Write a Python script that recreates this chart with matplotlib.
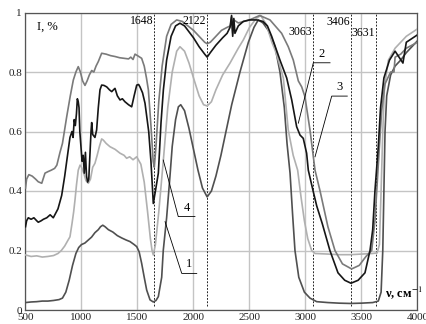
import matplotlib
matplotlib.use("Agg")
import matplotlib.pyplot as plt

plt.rcParams['font.family'] = ['Liberation Serif', 'DejaVu Serif']
plt.rcParams['mathtext.fontset'] = 'stix'

# ---------------- data (wavenumber, cm^-1 ; intensity) ----------------
v1 = [500, 550, 600, 650, 700, 750, 800, 830, 860, 890, 920, 950, 975, 1000, 1030, 1060, 1090, 1120,
      1150, 1170, 1190, 1210, 1240, 1280, 1320, 1360, 1400, 1433, 1470, 1493, 1515, 1537, 1560, 1582,
      1612, 1641, 1665, 1686, 1716, 1730, 1760, 1790, 1810, 1840, 1865, 1886, 1920, 1960, 2000, 2040,
      2080, 2122, 2160, 2200, 2245, 2290, 2341, 2415, 2490, 2540, 2578, 2620, 2668, 2728, 2772, 2811,
      2835, 2862, 2885, 2906, 2940, 2990, 3040, 3100, 3200, 3300, 3400, 3500, 3600, 3650, 3675, 3690,
      3700, 3710, 3725, 3760, 3800, 3850, 3900, 3950, 4000]
i1 = [0.025, 0.027, 0.028, 0.030, 0.030, 0.032, 0.035, 0.040, 0.060, 0.100, 0.150, 0.190, 0.210, 0.220,
      0.225, 0.235, 0.245, 0.260, 0.270, 0.280, 0.285, 0.280, 0.270, 0.262, 0.250, 0.242, 0.235, 0.230,
      0.220, 0.213, 0.195, 0.157, 0.110, 0.067, 0.034, 0.027, 0.032, 0.045, 0.110, 0.200, 0.310, 0.450,
      0.550, 0.640, 0.683, 0.690, 0.670, 0.610, 0.540, 0.470, 0.410, 0.380, 0.400, 0.450, 0.520, 0.600,
      0.690, 0.800, 0.900, 0.950, 0.975, 0.965, 0.940, 0.885, 0.800, 0.680, 0.560, 0.460, 0.320, 0.200,
      0.110, 0.060, 0.040, 0.028, 0.025, 0.023, 0.022, 0.023, 0.025, 0.030, 0.060, 0.200, 0.400, 0.600,
      0.720, 0.790, 0.820, 0.840, 0.865, 0.885, 0.905]

v2 = [500, 550, 600, 650, 700, 750, 790, 820, 850, 880, 897, 915, 930, 942, 955, 971, 987, 1000, 1020,
      1040, 1061, 1080, 1100, 1120, 1140, 1160, 1180, 1195, 1220, 1254, 1300, 1344, 1380, 1403, 1430,
      1460, 1493, 1530, 1560, 1590, 1615, 1630, 1641, 1660, 1690, 1730, 1770, 1810, 1850, 1879, 1920,
      1960, 2000, 2050, 2090, 2122, 2160, 2200, 2260, 2326, 2400, 2445, 2500, 2560, 2600, 2650, 2700,
      2728, 2765, 2802, 2846, 2890, 2930, 2960, 2990, 3020, 3055, 3085, 3200, 3300, 3400, 3500, 3600,
      3640, 3660, 3675, 3690, 3705, 3740, 3800, 3900, 4000]
i2 = [0.185, 0.180, 0.182, 0.178, 0.180, 0.183, 0.190, 0.200, 0.215, 0.235, 0.246, 0.290, 0.330, 0.370,
      0.420, 0.470, 0.487, 0.480, 0.460, 0.435, 0.426, 0.440, 0.480, 0.493, 0.520, 0.550, 0.575, 0.571,
      0.560, 0.549, 0.540, 0.527, 0.520, 0.510, 0.515, 0.505, 0.515, 0.490, 0.430, 0.330, 0.240, 0.200,
      0.185, 0.220, 0.330, 0.500, 0.680, 0.800, 0.870, 0.885, 0.870, 0.830, 0.780, 0.720, 0.690, 0.686,
      0.700, 0.740, 0.790, 0.830, 0.880, 0.908, 0.950, 0.980, 0.990, 0.960, 0.900, 0.874, 0.830, 0.780,
      0.605, 0.520, 0.470, 0.380, 0.300, 0.240, 0.200, 0.190, 0.188, 0.186, 0.186, 0.188, 0.190, 0.192,
      0.220, 0.400, 0.600, 0.750, 0.840, 0.880, 0.920, 0.945]

v3 = [500, 510, 530, 560, 590, 614, 645, 674, 700, 730, 760, 780, 808, 830, 868, 900, 927, 950, 971,
      990, 1010, 1031, 1050, 1070, 1091, 1110, 1130, 1150, 1180, 1220, 1260, 1300, 1340, 1380, 1420, 1440,
      1460, 1478, 1500, 1537, 1560, 1580, 1597, 1620, 1640, 1650, 1665, 1690, 1720, 1760, 1800, 1850,
      1900, 1950, 2000, 2050, 2100, 2122, 2150, 2200, 2250, 2300, 2330, 2340, 2350, 2360, 2400, 2500,
      2591, 2683, 2787, 2846, 2891, 2936, 2966, 2995, 3040, 3085, 3130, 3200, 3263, 3330, 3412, 3480,
      3540, 3591, 3620, 3636, 3660, 3680, 3710, 3760, 3790, 3800, 3850, 3900, 4000]
i3 = [0.410, 0.440, 0.455, 0.450, 0.440, 0.431, 0.426, 0.460, 0.465, 0.470, 0.476, 0.487, 0.530, 0.560,
      0.650, 0.720, 0.773, 0.800, 0.818, 0.800, 0.770, 0.755, 0.770, 0.790, 0.805, 0.800, 0.820, 0.835,
      0.863, 0.860, 0.855, 0.852, 0.848, 0.846, 0.844, 0.850, 0.842, 0.860, 0.855, 0.846, 0.820, 0.780,
      0.740, 0.620, 0.500, 0.480, 0.550, 0.700, 0.820, 0.920, 0.960, 0.975, 0.970, 0.955, 0.940, 0.920,
      0.900, 0.895, 0.900, 0.920, 0.940, 0.950, 0.955, 0.985, 0.930, 0.975, 0.965, 0.975, 0.990, 0.975,
      0.930, 0.885, 0.840, 0.770, 0.750, 0.717, 0.605, 0.470, 0.400, 0.280, 0.200, 0.155, 0.138, 0.150,
      0.180, 0.200, 0.300, 0.400, 0.550, 0.670, 0.760, 0.800, 0.800, 0.850, 0.860, 0.880, 0.900]

v4 = [500, 510, 525, 550, 575, 600, 614, 640, 660, 690, 720, 748, 790, 823, 850, 868, 897, 915, 925, 935,
      945, 955, 963, 971, 978, 985, 995, 1005, 1015, 1025, 1035, 1045, 1055, 1065, 1075, 1085, 1091, 1100,
      1120, 1135, 1150, 1165, 1180, 1200, 1225, 1250, 1270, 1285, 1299, 1320, 1344, 1365, 1388, 1420,
      1448, 1470, 1493, 1510, 1522, 1545, 1567, 1600, 1620, 1635, 1641, 1660, 1686, 1710, 1731, 1760,
      1800, 1840, 1879, 1920, 1960, 2000, 2050, 2100, 2122, 2150, 2200, 2260, 2300, 2326, 2340, 2350,
      2360, 2370, 2400, 2445, 2500, 2564, 2620, 2660, 2698, 2772, 2832, 2877, 2921, 2951, 2980, 3010,
      3025, 3068, 3100, 3150, 3218, 3290, 3350, 3406, 3470, 3531, 3576, 3600, 3620, 3650, 3670, 3700,
      3750, 3800, 3870, 3900, 4000]
i4 = [0.280, 0.300, 0.310, 0.305, 0.310, 0.300, 0.295, 0.300, 0.305, 0.310, 0.320, 0.310, 0.340, 0.385,
      0.450, 0.500, 0.580, 0.600, 0.580, 0.640, 0.620, 0.660, 0.710, 0.700, 0.680, 0.600, 0.550, 0.500,
      0.520, 0.460, 0.530, 0.450, 0.430, 0.440, 0.520, 0.600, 0.630, 0.590, 0.580, 0.605, 0.680, 0.740,
      0.756, 0.755, 0.750, 0.740, 0.734, 0.740, 0.745, 0.720, 0.706, 0.710, 0.700, 0.690, 0.683, 0.720,
      0.756, 0.758, 0.750, 0.730, 0.695, 0.600, 0.500, 0.400, 0.358, 0.400, 0.460, 0.630, 0.740, 0.840,
      0.920, 0.955, 0.964, 0.955, 0.935, 0.915, 0.885, 0.860, 0.850, 0.865, 0.890, 0.915, 0.930, 0.950,
      0.990, 0.920, 0.980, 0.930, 0.955, 0.970, 0.975, 0.975, 0.970, 0.955, 0.920, 0.840, 0.780, 0.706,
      0.616, 0.588, 0.577, 0.527, 0.470, 0.400, 0.350, 0.290, 0.200, 0.125, 0.100, 0.090, 0.100, 0.125,
      0.200, 0.270, 0.400, 0.550, 0.680, 0.780, 0.840, 0.870, 0.830, 0.900, 0.925]

peaks = [1648, 2122, 3063, 3406, 3631]
peak_label_y = [0.971, 0.971, 0.934, 0.968, 0.931]

xticks = [500, 1000, 1500, 2000, 2500, 3000, 3500, 4000]
yticks = [0, 0.2, 0.4, 0.6, 0.8, 1]
ytick_labels = ["0", "0.2", "0.4", "0.6", "0.8", "1"]

# curve labels: text, tip (v, I), corner (v, I), end v
labels = ["1", "4", "2", "3"]
label_tip = [(1746, 0.297), (1730, 0.504), (2936, 0.628), (3085, 0.515)]
label_corner = [(1895, 0.123), (1864, 0.314), (3070, 0.831), (3234, 0.719)]
label_end_v = [2029, 2013, 3219, 3373]

# ---------------- figure ----------------
fig = plt.figure(figsize=(4.27, 3.24), dpi=100)
ax = fig.add_axes([25.5 / 427, 14 / 324, 392 / 427, 297.5 / 324])
ax.set_xlim(500, 4000)
ax.set_ylim(0, 1)

ax.set_xticks(xticks)
ax.set_yticks(yticks)
ax.set_yticklabels(ytick_labels)
ax.tick_params(length=0, labelsize=8, pad=2.5, colors='#222222')
ax.grid(True, color='#c4c4c4', lw=1.0)
ax.set_axisbelow(True)
for s in ax.spines.values():
    s.set_color('#555555')
    s.set_linewidth(0.9)

for p, ly in zip(peaks, peak_label_y):
    ax.plot([p, p], [0.012, 1], ls=(0, (2.2, 1.8)), color='black', lw=0.6, zorder=2)
    ax.text(p - 8, ly, str(p), ha='right', va='center', fontsize=8.5, zorder=5)

ax.plot(v1, i1, color='#505050', lw=1.2, zorder=3)
ax.plot(v2, i2, color='#b0b0b0', lw=1.2, zorder=3)
ax.plot(v3, i3, color='#7a7a7a', lw=1.2, zorder=3)
ax.plot(v4, i4, color='#161616', lw=1.2, zorder=4)

for t, tip, cor, ev in zip(labels, label_tip, label_corner, label_end_v):
    ax.plot([tip[0], cor[0], ev], [tip[1], cor[1], cor[1]], color='black', lw=0.6, zorder=5)
    ax.text((cor[0] + ev) / 2, cor[1] + 0.01, t, ha='center', va='bottom', fontsize=9, zorder=6)

ax.text(603, 0.951, "I, %", ha='left', va='center', fontsize=9)
ax.text(3712, 0.06, r"ν, см$^{-1}$", ha='left', va='center', fontsize=9,
        fontweight='bold', clip_on=False)

fig.savefig("out.png", dpi=100)
